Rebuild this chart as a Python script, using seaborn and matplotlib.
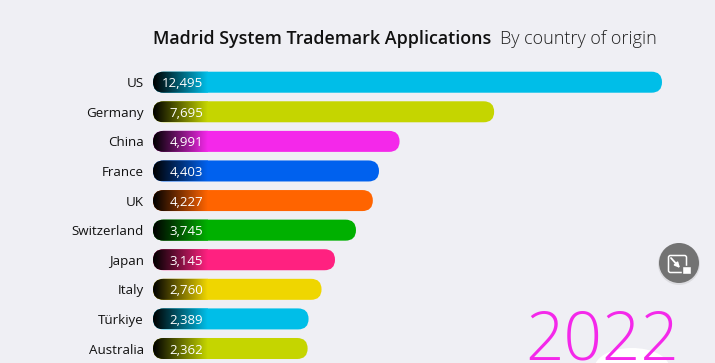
import numpy as np
import pandas as pd
import matplotlib
matplotlib.use("Agg")
import matplotlib.pyplot as plt
import seaborn as sns
from matplotlib.patches import FancyBboxPatch, Circle, Ellipse, Rectangle

countries = ["US", "Germany", "China", "France", "UK", "Switzerland", "Japan", "Italy", "Türkiye", "Australia"]
applications = [12495, 7695, 4991, 4403, 4227, 3745, 3145, 2760, 2389, 2362]
bar_colors = ["#00BEE8", "#C5D500", "#F428EA", "#0061EE", "#FF6400", "#00B000", "#FF2180", "#EFD600", "#00BEE8", "#C5D500"]
year = "2022"

BG = "#EFEFF4"
W, H = 715, 363

sns.set_theme(style="white", rc={"figure.facecolor": BG, "axes.facecolor": "none"})
plt.rcParams["font.family"] = ["Open Sans", "DejaVu Sans"]

df = pd.DataFrame({"country": countries, "applications": applications})

fig = plt.figure(figsize=(7.15, 3.63), dpi=100)
ax = fig.add_axes([153 / W, 0, 509 / W, (H - 67.2) / H])

sns.barplot(data=df, x="applications", y="country", hue="country", palette=bar_colors,
            width=0.71, legend=False, saturation=1, ax=ax)

# bars start left of zero, the value label sits in that stretch
x_start = -2059
ax.set_xlim(x_start, 12495)
ax.set_ylim(9.49, -0.507)
sns.despine(ax=ax, left=True, bottom=True)
ax.xaxis.set_visible(False)
ax.set_ylabel("")
ax.tick_params(axis="y", length=0, pad=6.5, labelsize=9.6, labelcolor="#111111")

x_per_px = (12495 - x_start) / 509
y_per_px = 1 / 29.6
grad_w = 55 * x_per_px

# swap the square bars for rounded ones with a dark fade on the left
for bar, value, color in zip(list(ax.patches), applications, bar_colors):
    y0, h = bar.get_y(), bar.get_height()
    bar.set_visible(False)
    rounded = FancyBboxPatch((x_start, y0), bar.get_width() - x_start, h,
                             boxstyle=f"round,pad=0,rounding_size={10.5 * x_per_px}",
                             mutation_aspect=y_per_px / x_per_px,
                             facecolor=color, edgecolor="none", zorder=2)
    ax.add_patch(rounded)
    rgb = np.array(matplotlib.colors.to_rgb(color))
    fade = np.linspace(0, 1, 64)[None, :, None] * rgb[None, None, :]
    img = ax.imshow(fade, extent=[x_start, x_start + grad_w, y0 + h, y0], aspect="auto",
                    interpolation="bilinear", zorder=3)
    img.set_clip_path(rounded)
    ax.text(x_start + 50 * x_per_px, y0 + h / 2, f"{value:,}", color="white", fontsize=9.5,
            ha="right", va="center_baseline", zorder=4)

ax.set_xlim(x_start, 12495)
ax.set_ylim(9.49, -0.507)

fig.text(153 / W, 1 - 44.5 / H, "Madrid System Trademark Applications", fontsize=12.9,
         fontweight=600, color="#111111", ha="left", va="baseline")
fig.text(499.5 / W, 1 - 44.5 / H, "By country of origin", fontsize=13, fontweight=300,
         color="#222222", ha="left", va="baseline")

# overlay in pixel coordinates for the year and the video button
over = fig.add_axes([0, 0, 1, 1], facecolor="none")
over.set_xlim(0, W)
over.set_ylim(H, 0)
over.axis("off")
over.add_patch(Ellipse((632, 368), 75, 40, facecolor="white", edgecolor="none", zorder=1))
over.text(602, 360, year, color="#F428EA", fontsize=48.5, fontweight=300,
          ha="center", va="baseline", zorder=2)

over.add_patch(Circle((679, 264), 21, facecolor="#000000", alpha=0.08, edgecolor="none"))
over.add_patch(Circle((679, 263), 20, facecolor="#737373", edgecolor="none"))
over.add_patch(FancyBboxPatch((668.5, 255.5), 18, 17, boxstyle="round,pad=0,rounding_size=2",
                              facecolor="none", edgecolor="white", linewidth=1.1))
over.add_patch(Rectangle((682, 266), 9, 7.5, facecolor="white", edgecolor="#737373", linewidth=1))
over.annotate("", xy=(680, 268), xytext=(671, 258),
              arrowprops=dict(arrowstyle="-|>", color="white", lw=1.3, mutation_scale=7, shrinkA=0, shrinkB=0))

fig.savefig("out.png", dpi=100, facecolor=BG)
